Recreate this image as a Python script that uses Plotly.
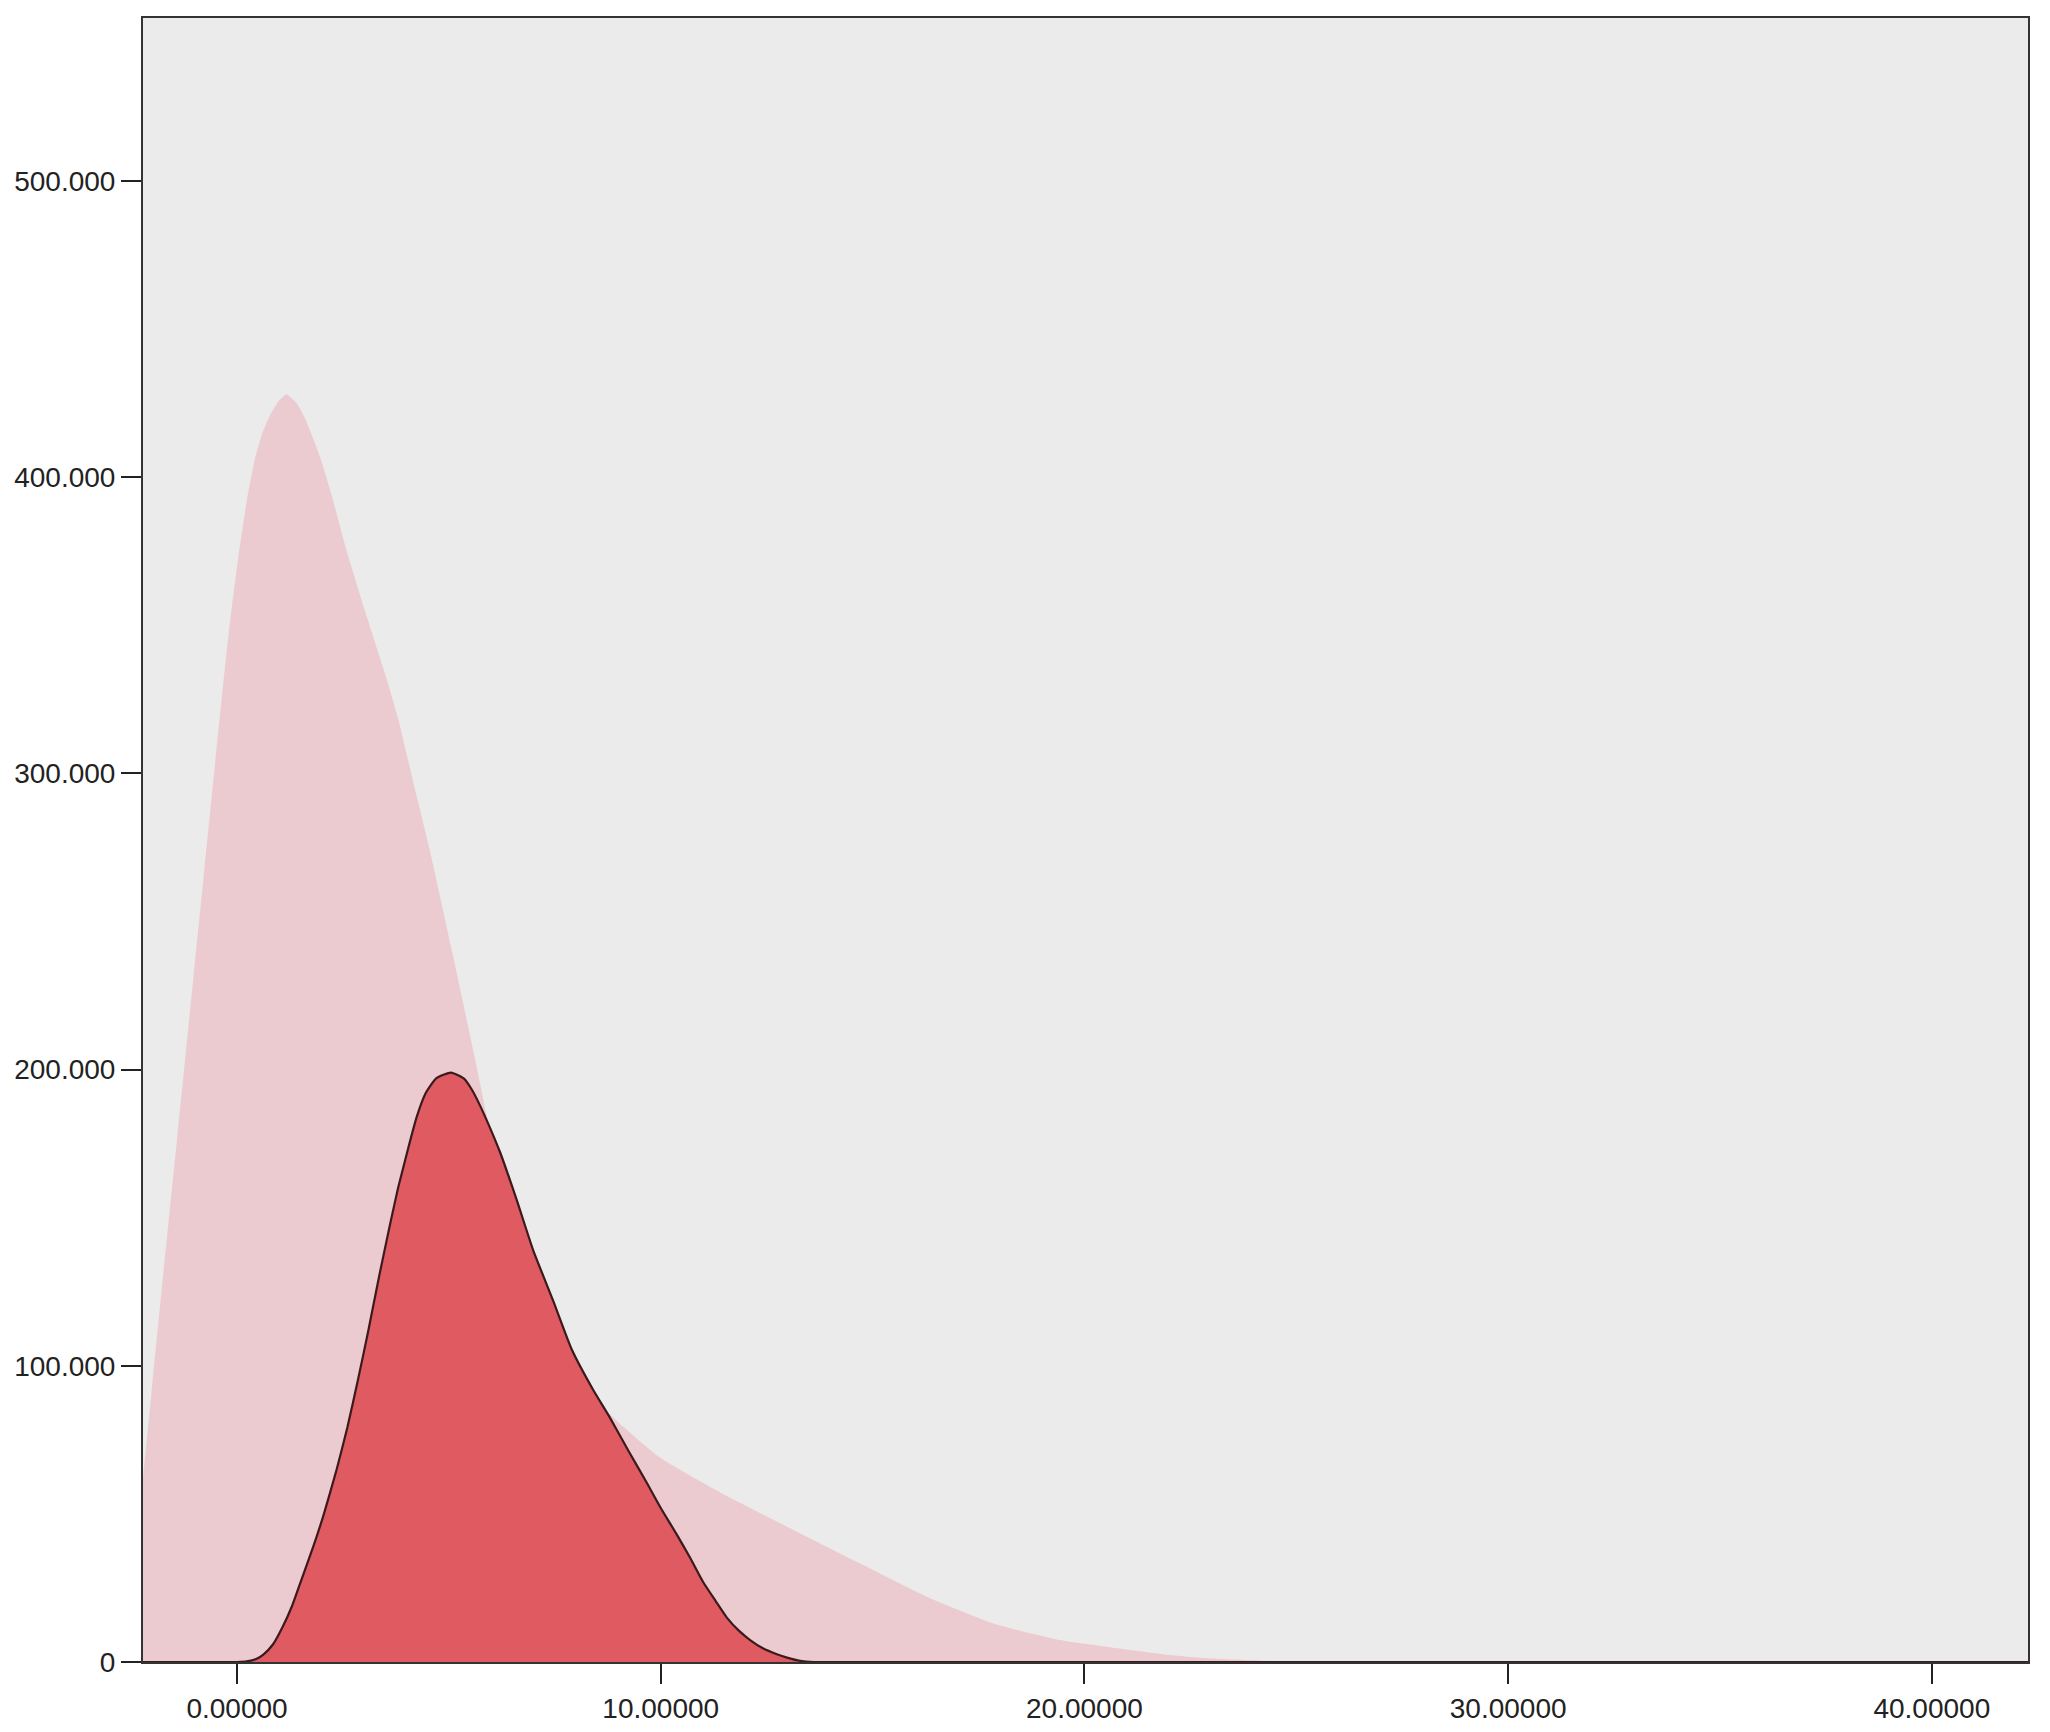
import plotly.graph_objects as go

# Light (background) density curve
light_x = [-2.4, -2.22, -2.02, -1.82, -1.62, -1.42, -1.23, -1.03, -0.79, -0.6, -0.4, -0.2,
           0.03, 0.23, 0.42, 0.6, 0.78, 1.0, 1.17, 1.4, 1.6, 1.8, 2.0, 2.23, 2.59, 3.06,
           3.57, 3.81, 4.16, 4.55, 5.09, 5.61, 6.14, 6.88, 7.72, 8.64, 9.98, 11.56, 13.13,
           14.7, 16.28, 17.85, 19.42, 20.59, 22.0, 23.0, 24.5, 26.0, 42.5]
light_y = [36, 62, 91, 120, 148, 176, 203, 231, 265, 292, 320, 347,
           373, 392, 406, 415, 421, 426, 428, 425, 420, 413, 405, 394, 375, 353,
           330, 318, 297, 274, 239, 204, 168, 133, 107, 86, 69, 56, 44.6,
           33.3, 22, 13, 7.4, 5, 2.4, 1.2, 0.3, 0, 0]

# Dark (foreground) density curve
dark_x = [-2.5, 0.0, 0.23, 0.45, 0.62, 0.85, 1.08, 1.3, 1.5, 1.8, 2.05, 2.35, 2.6, 2.85,
          3.1, 3.35, 3.6, 3.8, 4.05, 4.24, 4.45, 4.7, 5.05, 5.35, 5.55, 5.73, 5.95, 6.21,
          6.6, 6.99, 7.46, 7.9, 8.4, 8.8, 9.25, 9.67, 10.0, 10.38, 10.7, 11.0, 11.3,
          11.56, 11.85, 12.11, 12.4, 12.74, 13.0, 13.29, 13.6, 42.5]
dark_y = [0, 0, 0.2, 1, 2.5, 6, 12, 19, 27, 39, 50, 65, 79, 95,
          112, 130, 147, 160, 174, 184, 192, 197, 199, 197, 193, 188, 181, 172,
          156, 139, 122, 105.5, 92, 82.5, 71, 60.5, 52, 43, 35, 27, 20.5,
          15, 10.5, 7.4, 4.7, 2.6, 1.4, 0.4, 0, 0]

x_tickvals = [0, 10, 20, 30, 40]
x_ticktext = ["0.00000", "10.00000", "20.00000", "30.00000", "40.00000"]
y_tickvals = [0, 100, 200, 300, 400, 500]
y_ticktext = ["0", "100.000", "200.000", "300.000", "400.000", "500.000"]

fig = go.Figure()
fig.add_trace(go.Scatter(
    x=light_x, y=light_y, mode="lines", fill="tozeroy",
    fillcolor="#EBCBCF", line=dict(width=0, shape="spline", smoothing=0.5, color="#EBCBCF"),
    hoverinfo="skip", showlegend=False))
fig.add_trace(go.Scatter(
    x=dark_x, y=dark_y, mode="lines", fill="tozeroy",
    fillcolor="#E05A62", line=dict(width=2.2, shape="spline", smoothing=0.5, color="#3A1A1C"),
    hoverinfo="skip", showlegend=False))

axis_common = dict(
    showline=True, mirror=True, linecolor="#333333", linewidth=2,
    showgrid=False, zeroline=False, automargin=False,
    ticks="outside", ticklen=20, tickwidth=2, tickcolor="#222222",
    tickfont=dict(family="Liberation Sans, Arial, sans-serif", size=28, color="#222222"),
)

fig.update_layout(
    width=2034, height=1716,
    margin=dict(l=135, r=14, t=10, b=62),
    paper_bgcolor="white", plot_bgcolor="#EBEBEB",
    xaxis=dict(range=[-2.22, 42.27], tickvals=x_tickvals, ticktext=x_ticktext, **axis_common),
    yaxis=dict(range=[0, 555], tickvals=y_tickvals, ticktext=y_ticktext, **axis_common),
)

fig.write_html("out.html")
